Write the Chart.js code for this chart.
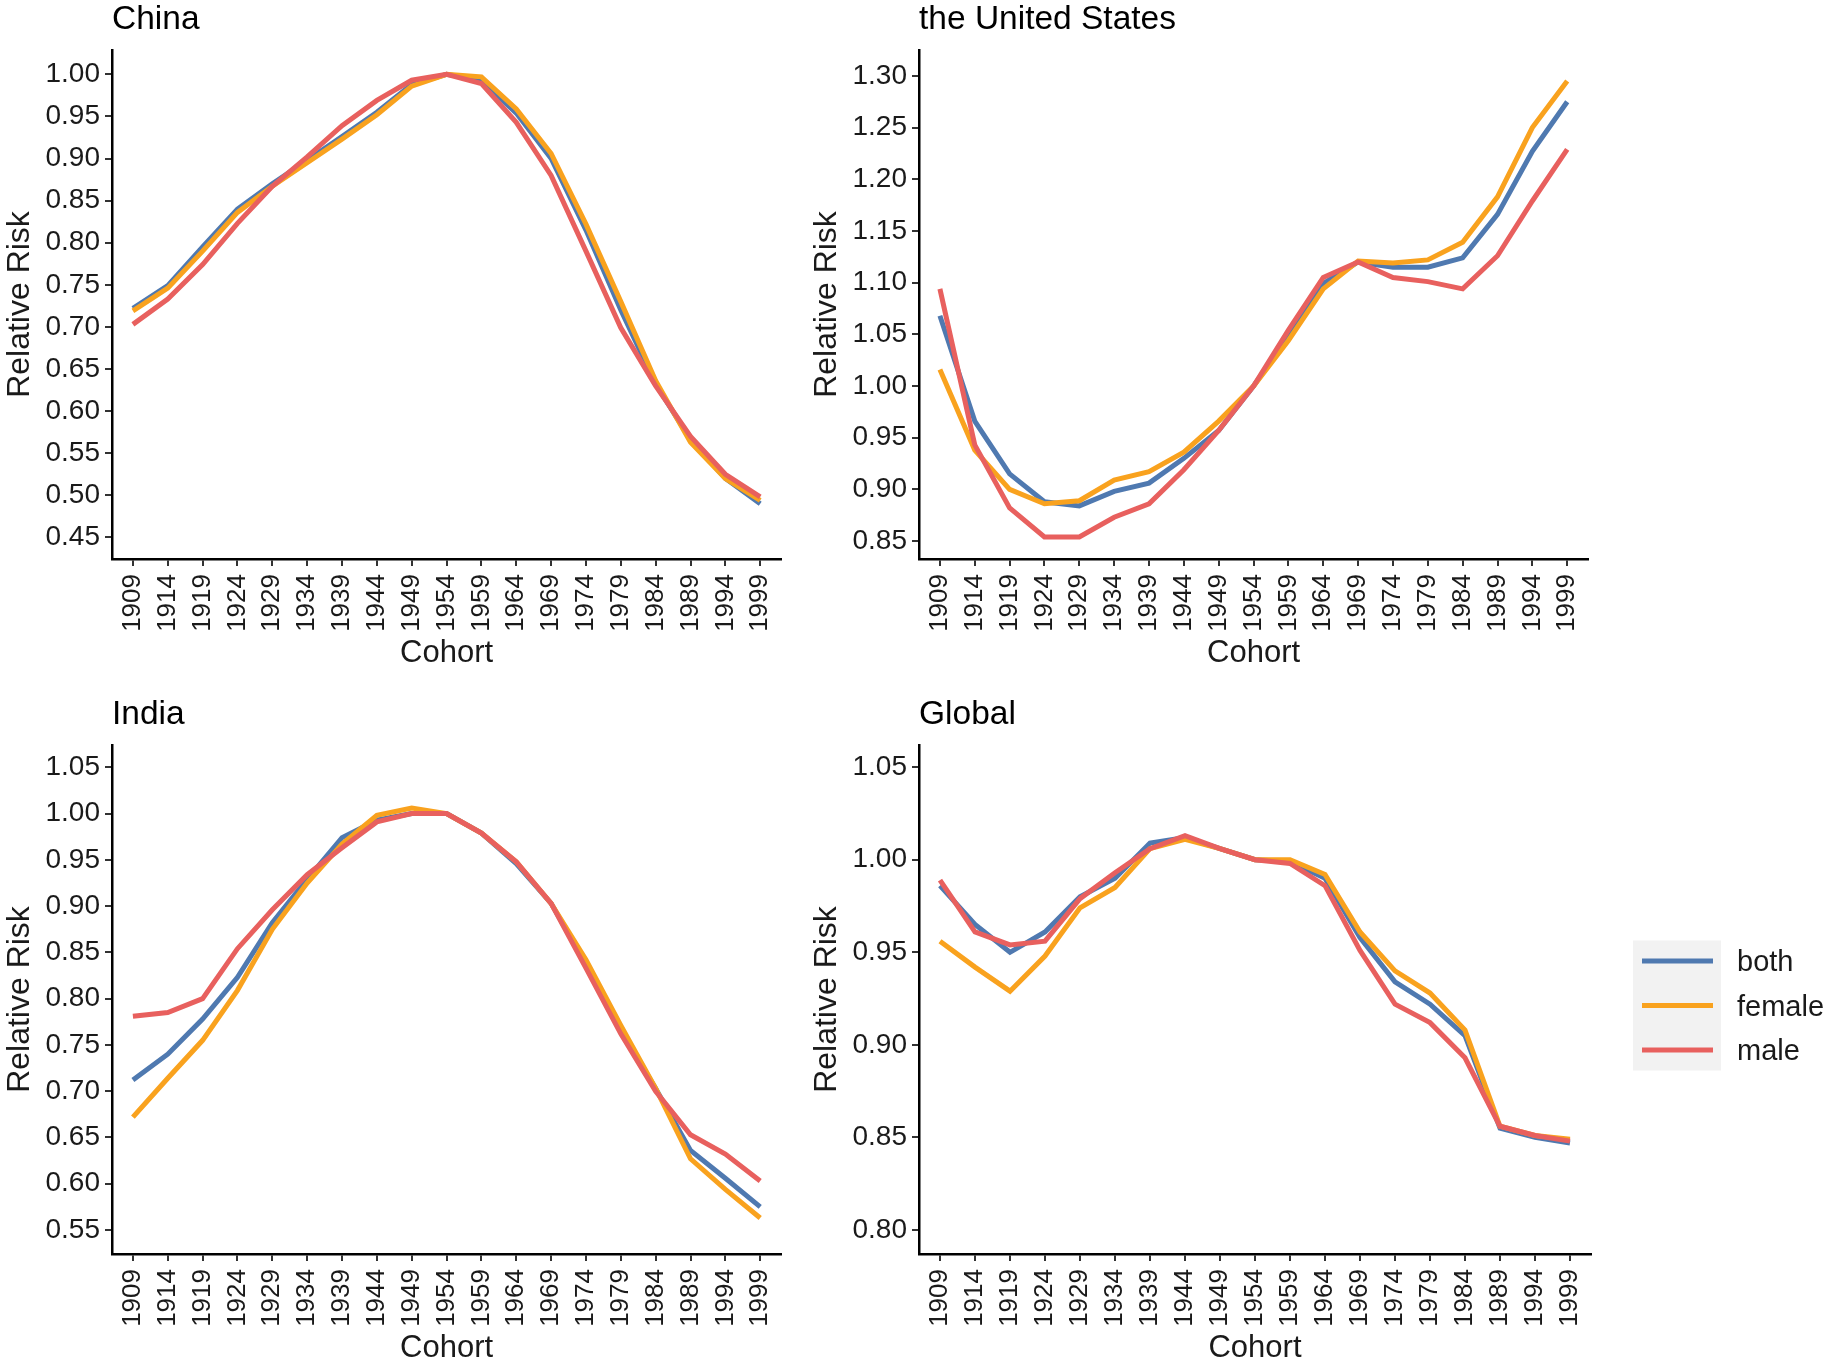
<!DOCTYPE html>
<html>
<head>
<meta charset="utf-8">
<script src="https://cdn.jsdelivr.net/npm/chart.js@4.4.1/dist/chart.umd.min.js"></script>
<style>
  html, body { margin: 0; padding: 0; background: #fff; }
  body { width: 1831px; height: 1366px; position: relative; overflow: hidden; }
  canvas { position: absolute; }
</style>
</head>
<body>
<canvas id="china" width="800" height="680" style="left:0px;top:0px"></canvas>
<canvas id="us" width="800" height="680" style="left:807px;top:0px"></canvas>
<canvas id="india" width="800" height="680" style="left:0px;top:695px"></canvas>
<canvas id="global" width="1024" height="680" style="left:807px;top:695px"></canvas>
<script>
// cohorts
const years = [1909, 1914, 1919, 1924, 1929, 1934, 1939, 1944, 1949, 1954,
  1959, 1964, 1969, 1974, 1979, 1984, 1989, 1994, 1999]
const seriesNames = ['both', 'female', 'male']
const seriesColors = ['#4F79B0', '#F9A21E', '#E8605E']

// China
const chinaBoth = [0.722, 0.749, 0.795, 0.840, 0.870, 0.898, 0.926, 0.955, 0.988, 1.000,
  0.993, 0.954, 0.900, 0.815, 0.720, 0.632, 0.566, 0.520, 0.490]
const chinaFemale = [0.719, 0.746, 0.790, 0.836, 0.867, 0.895, 0.923, 0.952, 0.986, 1.000,
  0.997, 0.959, 0.906, 0.822, 0.730, 0.636, 0.563, 0.520, 0.494]
const chinaMale = [0.703, 0.733, 0.774, 0.823, 0.867, 0.902, 0.939, 0.969, 0.993, 1.000,
  0.989, 0.943, 0.880, 0.790, 0.699, 0.630, 0.570, 0.525, 0.498]
const chinaTicks = [0.45, 0.50, 0.55, 0.60, 0.65, 0.70, 0.75, 0.80, 0.85, 0.90, 0.95, 1.00]

// the United States
const usBoth = [1.068, 0.966, 0.915, 0.888, 0.884, 0.898, 0.906, 0.930, 0.957, 1.000,
  1.048, 1.099, 1.120, 1.115, 1.115, 1.124, 1.166, 1.227, 1.275]
const usFemale = [1.016, 0.938, 0.900, 0.886, 0.889, 0.909, 0.917, 0.936, 0.966, 1.000,
  1.044, 1.094, 1.121, 1.119, 1.122, 1.139, 1.183, 1.250, 1.295]
const usMale = [1.094, 0.943, 0.882, 0.854, 0.854, 0.873, 0.886, 0.919, 0.957, 1.000,
  1.054, 1.105, 1.120, 1.105, 1.101, 1.094, 1.126, 1.179, 1.229]
const usTicks = [0.85, 0.90, 0.95, 1.00, 1.05, 1.10, 1.15, 1.20, 1.25, 1.30]

// India
const indiaBoth = [0.712, 0.740, 0.778, 0.823, 0.882, 0.929, 0.974, 0.993, 1.000, 1.000,
  0.979, 0.946, 0.903, 0.837, 0.766, 0.703, 0.636, 0.606, 0.575]
const indiaFemale = [0.672, 0.714, 0.755, 0.809, 0.875, 0.925, 0.967, 0.998, 1.006, 1.000,
  0.979, 0.948, 0.903, 0.842, 0.771, 0.703, 0.627, 0.594, 0.563]
const indiaMale = [0.781, 0.785, 0.800, 0.854, 0.896, 0.934, 0.963, 0.991, 1.000, 1.000,
  0.979, 0.948, 0.903, 0.833, 0.762, 0.700, 0.653, 0.632, 0.603]
const indiaTicks = [0.55, 0.60, 0.65, 0.70, 0.75, 0.80, 0.85, 0.90, 0.95, 1.00, 1.05]

// Global
const globalBoth = [0.986, 0.965, 0.950, 0.961, 0.980, 0.990, 1.009, 1.012, 1.006, 1.000,
  0.999, 0.990, 0.958, 0.934, 0.922, 0.905, 0.855, 0.850, 0.847]
const globalFemale = [0.956, 0.942, 0.929, 0.948, 0.974, 0.985, 1.006, 1.011, 1.006, 1.000,
  1.000, 0.992, 0.961, 0.940, 0.928, 0.908, 0.856, 0.851, 0.849]
const globalMale = [0.989, 0.961, 0.954, 0.956, 0.979, 0.993, 1.006, 1.013, 1.006, 1.000,
  0.998, 0.986, 0.951, 0.922, 0.912, 0.893, 0.856, 0.851, 0.848]
const globalTicks = [0.80, 0.85, 0.90, 0.95, 1.00, 1.05]

Chart.defaults.font.family = '"Liberation Sans", Arial, sans-serif'
Chart.defaults.color = '#1a1a1a'

// legend with grey key background, drawn to the right of the Global panel
const sexLegend = {
  id: 'sexLegend',
  afterDraw(chart) {
    const { ctx, chartArea } = chart
    const left = chartArea.right + 42
    const mid = (chartArea.top + chartArea.bottom) / 2 + 6
    const gap = 44.5
    ctx.save()
    ctx.fillStyle = '#F2F2F2'
    ctx.fillRect(left, mid - gap - 20.5, 88, gap * 2 + 41)
    ctx.font = '29px "Liberation Sans", Arial, sans-serif'
    ctx.textBaseline = 'middle'
    seriesNames.forEach((name, i) => {
      const y = mid + (i - 1) * gap
      ctx.strokeStyle = seriesColors[i]
      ctx.lineWidth = 5
      ctx.beginPath()
      ctx.moveTo(left + 9, y)
      ctx.lineTo(left + 80, y)
      ctx.stroke()
      ctx.fillStyle = '#1a1a1a'
      ctx.fillText(name, left + 104, y + 2)
    })
    ctx.restore()
  },
}

function makePanel(id, title, values, yMin, yMax, yTicks, withLegend) {
  return new Chart(document.getElementById(id), {
    type: 'line',
    data: {
      datasets: values.map((arr, i) => ({
        label: seriesNames[i],
        data: years.map((x, j) => ({ x: x, y: arr[j] })),
        borderColor: seriesColors[i],
        backgroundColor: seriesColors[i],
        borderWidth: 5,
        pointRadius: 0,
        tension: 0,
        fill: false,
        order: 3 - i,
      })),
    },
    options: {
      responsive: false,
      animation: false,
      devicePixelRatio: 1,
      layout: {
        autoPadding: false,
        padding: { left: 0, right: withLegend ? 240 : 16, top: 0, bottom: 0 },
      },
      plugins: {
        legend: { display: false },
        tooltip: { enabled: false },
        title: {
          display: true,
          text: title,
          align: 'start',
          fullSize: false,
          color: '#000',
          font: { size: 33.5, weight: 'normal' },
          padding: { top: 0, bottom: 9.8 },
        },
      },
      scales: {
        x: {
          type: 'linear',
          min: 1906,
          max: 2002,
          afterBuildTicks: (s) => { s.ticks = years.map((v) => ({ value: v })) },
          afterFit: (s) => { s.height = 121 },
          ticks: {
            autoSkip: false,
            minRotation: 90,
            maxRotation: 90,
            padding: 8,
            font: { size: 26 },
            callback: (v) => String(v),
          },
          grid: { drawOnChartArea: false, tickLength: 7, color: '#333', lineWidth: 2 },
          border: { color: '#000', width: 2.5 },
          title: { display: true, text: 'Cohort', font: { size: 31 }, padding: { top: 0, bottom: 8 } },
        },
        y: {
          min: yMin,
          max: yMax,
          afterBuildTicks: (s) => { s.ticks = yTicks.map((v) => ({ value: v })) },
          afterFit: (s) => { s.width = 112 },
          ticks: { padding: 5, font: { size: 28 }, callback: (v) => v.toFixed(2) },
          grid: { drawOnChartArea: false, tickLength: 7, color: '#333', lineWidth: 2 },
          border: { color: '#000', width: 2.5 },
          title: { display: true, text: 'Relative Risk', font: { size: 32 }, padding: { top: 1, bottom: 0 } },
        },
      },
    },
    plugins: withLegend ? [sexLegend] : [],
  })
}

makePanel('china', 'China', [chinaBoth, chinaFemale, chinaMale], 0.4243, 1.0289, chinaTicks, false)
makePanel('us', 'the United States', [usBoth, usFemale, usMale], 0.8326, 1.3251, usTicks, false)
makePanel('india', 'India', [indiaBoth, indiaFemale, indiaMale], 0.5241, 1.0741, indiaTicks, false)
makePanel('global', 'Global', [globalBoth, globalFemale, globalMale], 0.787, 1.062, globalTicks, true)
</script>
</body>
</html>
